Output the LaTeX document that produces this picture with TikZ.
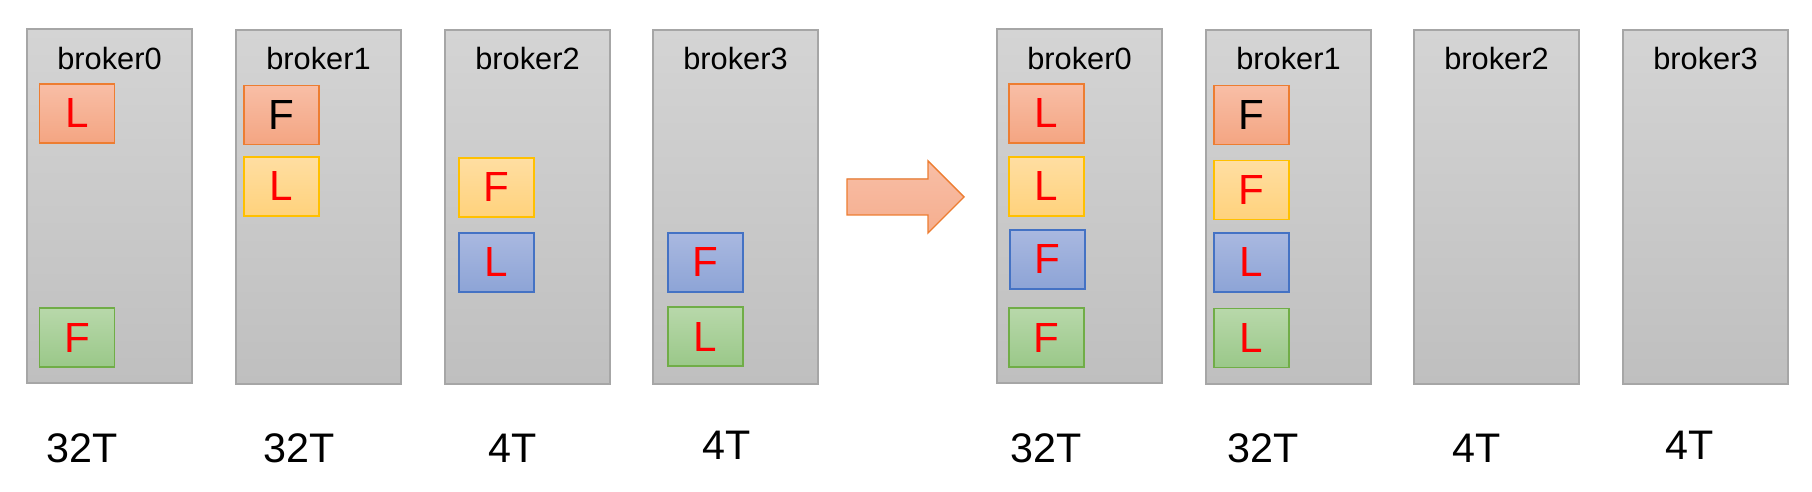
\documentclass[tikz,border=0pt]{standalone}
\usepackage{fontspec}
\setmainfont{Liberation Sans}
\usetikzlibrary{positioning}

\definecolor{greyline}{HTML}{A6A6A6}
\definecolor{greytop}{HTML}{D4D4D4}
\definecolor{greybot}{HTML}{BFBFBF}
\definecolor{orangeline}{HTML}{ED7D31}
\definecolor{orangetop}{HTML}{F8BEA6}
\definecolor{orangebot}{HTML}{F4A582}
\definecolor{yellowline}{HTML}{FFC000}
\definecolor{yellowtop}{HTML}{FFDEA2}
\definecolor{yellowbot}{HTML}{FFD27C}
\definecolor{blueline}{HTML}{4472C4}
\definecolor{bluetop}{HTML}{A9B8E0}
\definecolor{bluebot}{HTML}{8DA4D6}
\definecolor{greenline}{HTML}{70AD47}
\definecolor{greentop}{HTML}{B8D8AA}
\definecolor{greenbot}{HTML}{9AC889}

\begin{document}
\begin{tikzpicture}[
        x=0.02cm, y=-0.02cm,
        broker/.style={
            draw=greyline,
            line width=1pt,
            top color=greytop,
            bottom color=greybot,
            minimum width=3.3cm,
            minimum height=7.08cm,
            inner sep=0pt
        },
        brokername/.style={font=\fontsize{17.5}{20}\selectfont, anchor=base},
        rep/.style={
            draw=#1line,
            line width=0.7pt,
            top color=#1top,
            bottom color=#1bot,
            minimum width=1.5cm,
            minimum height=1.18cm,
            inner sep=0pt,
            text=red,
            font=\fontsize{24}{28}\selectfont
        },
        disk/.style={font=\fontsize{23.5}{28}\selectfont, anchor=base}
    ]
        \useasboundingbox (0,0) rectangle (1812,492);

        % before
        \node[broker] (a0) at (109.5,206) {};
        \node[broker] (a1) at (318.5,207) {};
        \node[broker] (a2) at (527.5,207) {};
        \node[broker] (a3) at (735.5,207) {};
        \node[brokername] (a0name) at (109.5,70) {broker0};
        \node[brokername] (a1name) at (318.5,70) {broker1};
        \node[brokername] (a2name) at (527.5,70) {broker2};
        \node[brokername] (a3name) at (735.5,70) {broker3};

        \node[rep=orange] (a0l) at (77,113.5) {L};
        \node[rep=green] (a0f) at (77,337.5) {F};
        \node[rep=orange, text=black] (a1f) at (281.5,115) {F};
        \node[rep=yellow] (a1l) at (281.5,186.5) {L};
        \node[rep=yellow] (a2f) at (496.5,187.5) {F};
        \node[rep=blue] (a2l) at (496.5,262.5) {L};
        \node[rep=blue] (a3f) at (705.5,262.5) {F};
        \node[rep=green] (a3l) at (705.5,336.5) {L};

        \node[disk] (a0disk) at (82,463) {32T};
        \node[disk] (a1disk) at (299,463) {32T};
        \node[disk] (a2disk) at (513,463) {4T};
        \node[disk] (a3disk) at (727,460) {4T};

        % move
        \filldraw[draw=orangeline, line width=0.8pt, top color=orangetop, bottom color=orangebot!90!white]
            (847,179) -- (928,179) -- (928,161) -- (964,197) -- (928,233) -- (928,215) -- (847,215) -- cycle;

        % after
        \node[broker] (b0) at (1079.5,206) {};
        \node[broker] (b1) at (1288.5,207) {};
        \node[broker] (b2) at (1496.5,207) {};
        \node[broker] (b3) at (1705.5,207) {};
        \node[brokername] (b0name) at (1079.5,70) {broker0};
        \node[brokername] (b1name) at (1288.5,70) {broker1};
        \node[brokername] (b2name) at (1496.5,70) {broker2};
        \node[brokername] (b3name) at (1705.5,70) {broker3};

        \node[rep=orange] (b0l1) at (1046.5,113.5) {L};
        \node[rep=yellow] (b0l2) at (1046.5,186.5) {L};
        \node[rep=blue] (b0f1) at (1047.5,259.5) {F};
        \node[rep=green] (b0f2) at (1046.5,337.5) {F};
        \node[rep=orange, text=black] (b1f1) at (1251.5,115) {F};
        \node[rep=yellow] (b1f2) at (1251.5,190) {F};
        \node[rep=blue] (b1l1) at (1251.5,262.5) {L};
        \node[rep=green] (b1l2) at (1251.5,338) {L};

        \node[disk] (b0disk) at (1046,463) {32T};
        \node[disk] (b1disk) at (1263,463) {32T};
        \node[disk] (b2disk) at (1477,463) {4T};
        \node[disk] (b3disk) at (1690,460) {4T};
    \end{tikzpicture}
\end{document}
